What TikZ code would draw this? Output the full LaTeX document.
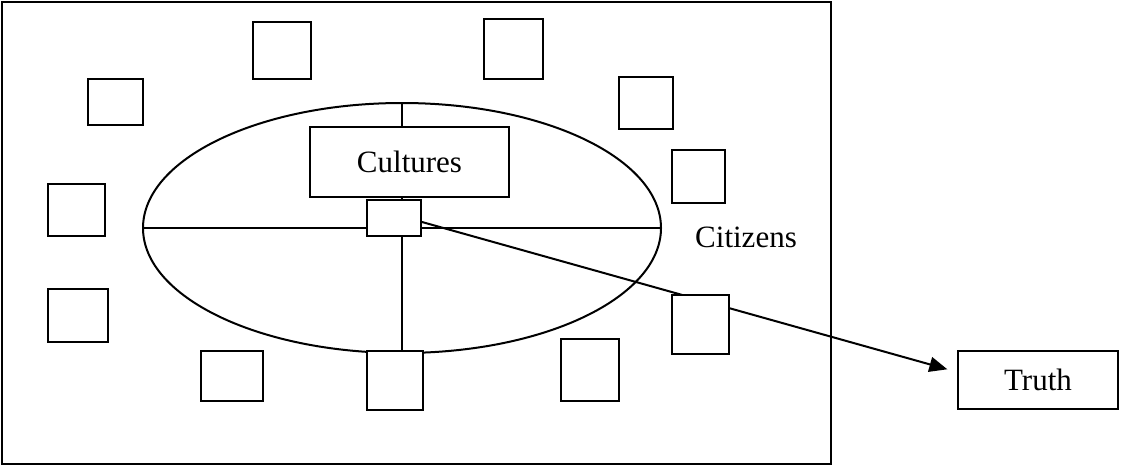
\documentclass[tikz,border=0pt]{standalone}
\usepackage{fontspec}
\setmainfont{Liberation Serif}
\usetikzlibrary{shapes.geometric, arrows.meta, backgrounds}

\begin{document}
\begin{tikzpicture}[x=1pt, y=-1pt,
  tile/.style={rectangle, draw, fill=white, line width=2pt, inner sep=0pt},
  ring/.style={ellipse, draw, line width=2pt, inner sep=0pt, minimum width=518pt, minimum height=250pt},
  word/.style={font=\fontsize{31}{36}\selectfont},
  spoke/.style={line width=2pt},
  arrow/.style={-{Triangle[length=18pt,width=15pt]}, line width=2pt}
]
  \useasboundingbox (0,0) rectangle (1126,466);
  \draw[line width=2.5pt] (2,2) rectangle (831,464);

  \node[ring] (ring) at (402,228) {};

  \node[tile, word, minimum width=199pt, minimum height=70pt] (cultures) at (409.5,162) {Cultures};
  \node[tile, minimum width=54pt, minimum height=36pt] (hub) at (394,218) {};

  % citizens round the circle
  \node[tile, minimum width=58pt, minimum height=57pt] (m1) at (282,50.5) {};
  \node[tile, minimum width=59pt, minimum height=60pt] (m2) at (513.5,49) {};
  \node[tile, minimum width=55pt, minimum height=46pt] (m3) at (115.5,102) {};
  \node[tile, minimum width=54pt, minimum height=52pt] (m4) at (646,103) {};
  \node[tile, minimum width=53pt, minimum height=53pt] (m5) at (698.5,176.5) {};
  \node[tile, minimum width=57pt, minimum height=52pt] (m6) at (76.5,210) {};
  \node[tile, minimum width=60pt, minimum height=53pt] (m7) at (78,315.5) {};
  \node[tile, minimum width=62pt, minimum height=50pt] (m8) at (232,376) {};
  \node[tile, minimum width=56pt, minimum height=59pt] (m9) at (395,380.5) {};
  \node[tile, minimum width=58pt, minimum height=62pt] (m10) at (590,370) {};
  \node[tile, minimum width=57pt, minimum height=59pt] (m11) at (700.5,324.5) {};

  \node[word, anchor=base] (citizens) at (746,247) {Citizens};
  \node[tile, word, minimum width=160pt, minimum height=58pt] (truth) at (1038,380) {Truth};

  \begin{scope}[on background layer]
    \draw[spoke] (ring.west) -- (ring.east);
    \draw[spoke] (ring.north) -- (ring.north |- m9.north);
    \draw[arrow, shorten >=10pt] ([yshift=-4pt]hub.east) -- ([yshift=8pt]truth.west);
  \end{scope}
\end{tikzpicture}
\end{document}
